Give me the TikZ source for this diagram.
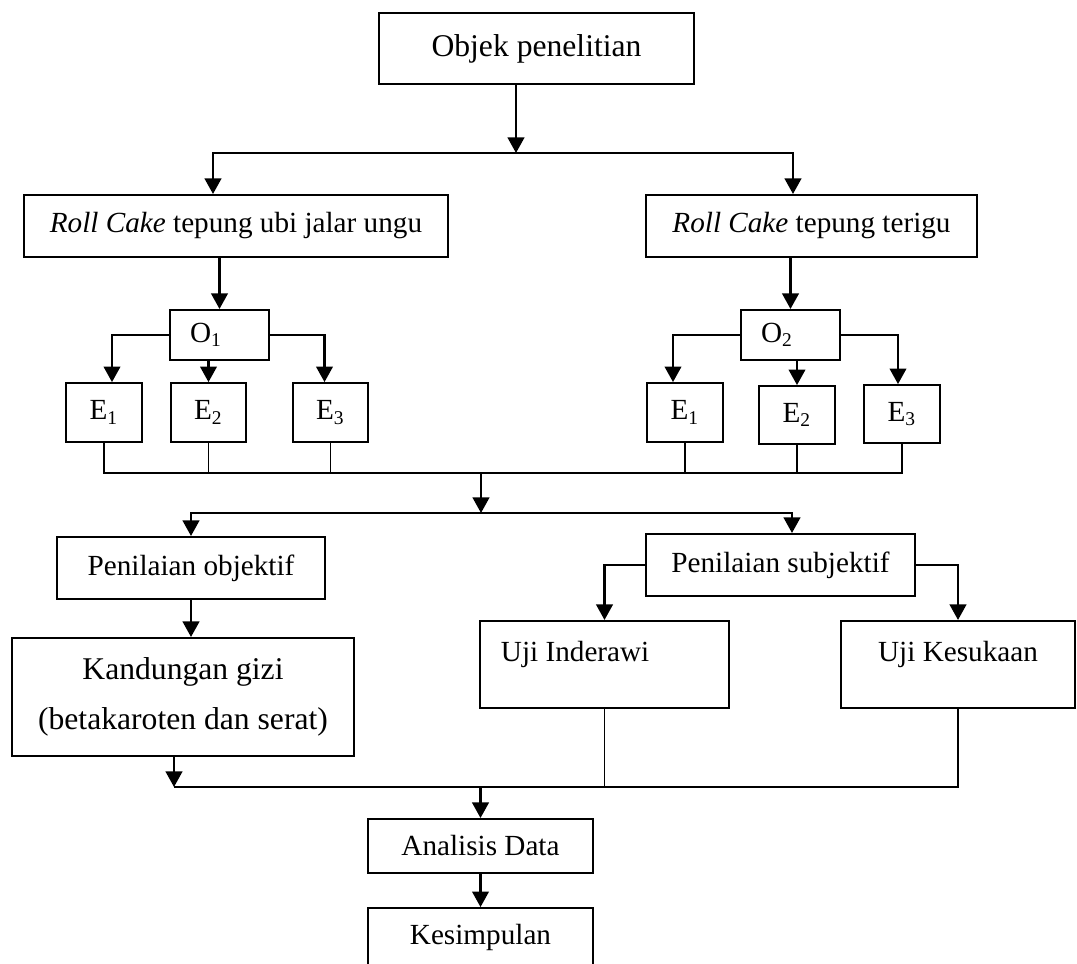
\documentclass[tikz,border=0pt]{standalone}
\usepackage{fontspec}
\setmainfont{Liberation Serif}
\usetikzlibrary{arrows.meta,calc}
\tikzset{
  box/.style={draw, line width=0.8pt, inner sep=0pt, align=center, font=\fontsize{12}{14.4}\selectfont},
  bigbox/.style={box, font=\fontsize{13}{20.5}\selectfont},
  obox/.style={box, minimum width=40.7pt, minimum height=20.6pt},
  ebox/.style={box, minimum width=31.2pt, minimum height=24.2pt},
  ujibox/.style={box, minimum height=35.8pt, text height=9pt, text depth=11.2pt},
  arrowline/.style={line width=1pt, -{Triangle[length=6.4pt,width=6.8pt]}},
  joinline/.style={line width=0.7pt}
}
\newdimen\unitpx \unitpx=0.411pt

\begin{document}
\begin{tikzpicture}[x=\unitpx, y=-\unitpx]
  \path[use as bounding box, clip] (0,0) rectangle (1077,964);
  % Objek penelitian
  \node[bigbox, minimum width=129.5pt, minimum height=29.2pt] (obj) at (536.5,48.5) {Objek penelitian};
  % Roll Cake
  \node[box, minimum width=174.3pt, minimum height=25.5pt] (rollL) at (236,226) {\textit{Roll Cake} tepung ubi jalar ungu};
  \node[box, minimum width=136pt, minimum height=25.5pt] (rollR) at (811.5,226) {\textit{Roll Cake} tepung terigu};
  % O and E
  \node[obox] (o1) at (219.5,335) {O\textsubscript{1}\kern11pt};
  \node[obox] (o2) at (790.5,335) {O\textsubscript{2}\kern11pt};
  \node[ebox] (e1L) at (104,412.5) {E\textsubscript{1}};
  \node[ebox] (e2L) at (208.5,412.5) {E\textsubscript{2}};
  \node[ebox] (e3L) at (330.5,412.5) {E\textsubscript{3}};
  \node[ebox] (e1R) at (685,412.5) {E\textsubscript{1}};
  \node[ebox, minimum height=23.8pt] (e2R) at (797,415) {E\textsubscript{2}};
  \node[ebox, minimum height=23.8pt] (e3R) at (902,414) {E\textsubscript{3}};
  % Penilaian
  \node[box, minimum width=110.1pt, minimum height=25.5pt] (penobj) at (191,568) {Penilaian objektif};
  \node[box, minimum width=110.6pt, minimum height=25.5pt] (pensub) at (780.5,565) {Penilaian subjektif};
  \node[bigbox, minimum width=140.6pt, minimum height=48.5pt] (kand) at (183,697) {Kandungan gizi\\(betakaroten dan serat)};
  \node[ujibox, text width=85.1pt, inner xsep=8.6pt, align=flush left] (uji1) at (604.5,664.5) {Uji Inderawi};
  \node[ujibox, minimum width=96.2pt] (uji2) at (958,664.5) {Uji Kesukaan};
  % Analisis
  \node[box, minimum width=92.5pt, minimum height=22.2pt] (anal) at (480.5,846) {Analisis Data};
  \node[box, minimum width=92.5pt, minimum height=23.8pt] (kesim) at (480.5,937) {Kesimpulan};

  % connectors
  \coordinate (j1) at (516,153);
  \draw[arrowline] (obj.south -| j1) -- (j1);
  \draw[arrowline] (j1) -| ($(rollL.north)+(-23,0)$);
  \draw[arrowline] (j1) -| ($(rollR.north)+(-18.5,0)$);
  \draw[arrowline] (o1.north |- rollL.south) -- (o1.north);
  \draw[arrowline] (o2.north |- rollR.south) -- (o2.north);
  \draw[arrowline] (o1.west) -| ($(e1L.north)+(8,0)$);
  \draw[arrowline] (e2L.north |- o1.south) -- (e2L.north);
  \draw[arrowline] (o1.east) -| ($(e3L.north)+(-6,0)$);
  \draw[arrowline] (o2.west) -| ($(e1R.north)+(-12,0)$);
  \draw[arrowline] (e2R.north |- o2.south) -- (e2R.north);
  \draw[arrowline] (o2.east) -| ($(e3R.north)+(-4,0)$);
  % collect E
  \coordinate (j2) at (481,473);
  \draw[joinline] (e1L.south) |- (e3R.south |- j2) -- (e3R.south);
  \draw[joinline] (e2L.south) -- (e2L.south |- j2);
  \draw[joinline] (e3L.south) -- (e3L.south |- j2);
  \draw[joinline] (e1R.south) -- (e1R.south |- j2);
  \draw[joinline] (e2R.south) -- (e2R.south |- j2);
  \coordinate (j3) at (481,513);
  \draw[arrowline] (j2) -- (j3);
  \draw[arrowline] (j3) -| (penobj.north);
  \draw[arrowline] (j3) -| ($(pensub.north)+(11.5,0)$);
  \draw[arrowline] (penobj.south) -- (penobj.south |- kand.north);
  \draw[arrowline] (pensub.west) -| (uji1.north);
  \draw[arrowline] (pensub.east) -| (uji2.north);
  % collect results
  \coordinate (j4) at (480.5,787);
  \draw[arrowline] ($(kand.south)+(-9,0)$) -- ($(kand.south |- j4)+(-9,0)$);
  \draw[joinline] ($(kand.south |- j4)+(-9,0)$) -- (uji2.south |- j4) -- (uji2.south);
  \draw[joinline] (uji1.south) -- (uji1.south |- j4);
  \draw[arrowline] (j4) -- (anal.north);
  \draw[arrowline] (anal.south) -- (kesim.north);
\end{tikzpicture}
\end{document}
